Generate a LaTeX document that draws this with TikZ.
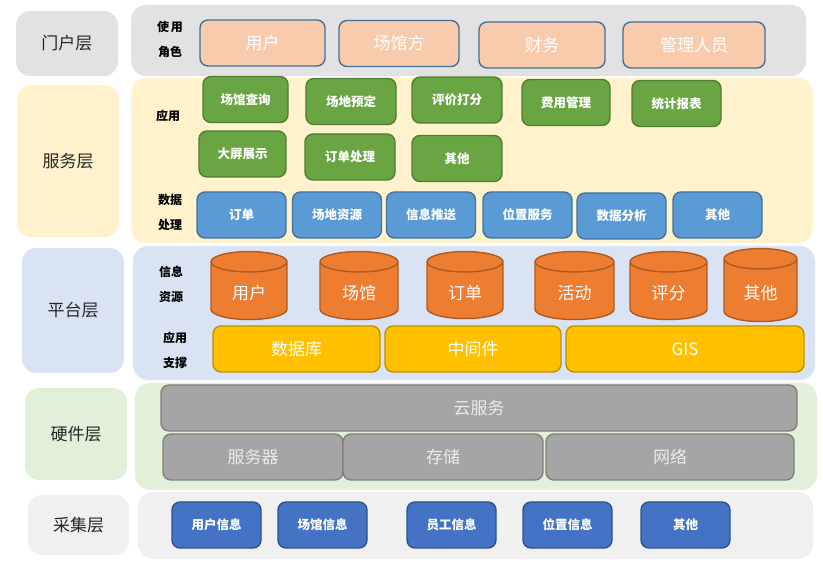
\documentclass[tikz,border=0pt]{standalone}
\usepackage{fontspec}
\setmainfont{Noto Sans CJK SC}
\usetikzlibrary{shapes.geometric}
\definecolor{gportal}{RGB}{226,226,226}
\definecolor{gserv}{RGB}{255,242,204}
\definecolor{gplat}{RGB}{218,227,243}
\definecolor{ghard}{RGB}{226,240,217}
\definecolor{gcoll}{RGB}{240,240,240}
\definecolor{rolefill}{RGB}{248,203,173}
\definecolor{boxline}{RGB}{65,113,156}
\definecolor{appfill}{RGB}{106,165,67}
\definecolor{appline}{RGB}{80,126,50}
\definecolor{datafill}{RGB}{91,155,213}
\definecolor{cylfill}{RGB}{237,125,49}
\definecolor{cylline}{RGB}{174,90,33}
\definecolor{supfill}{RGB}{255,192,0}
\definecolor{supline}{RGB}{191,144,0}
\definecolor{hwfill}{RGB}{165,165,165}
\definecolor{hwline}{RGB}{127,127,127}
\definecolor{collfill}{RGB}{68,114,196}
\definecolor{collline}{RGB}{47,82,143}
\tikzset{
	layer/.style={rounded corners=14pt, inner sep=0pt, text=black!85, font=\fontsize{17}{17}\selectfont},
	panel/.style={rounded corners=15pt},
	side/.style={align=center, inner sep=0pt, font=\bfseries\fontsize{12}{25}\selectfont},
	box/.style={rounded corners=8pt, line width=1.4pt, inner sep=0pt, minimum height=46pt, text=white},
	small/.style={box, font=\bfseries\fontsize{12.5}{12.5}\selectfont},
	large/.style={box, font=\fontsize{17}{17}\selectfont},
	role/.style={large, fill=rolefill, draw=boxline},
	app/.style={small, fill=appfill, draw=appline},
	dat/.style={small, fill=datafill, draw=boxline},
	sup/.style={large, fill=supfill, draw=supline},
	hw/.style={large, fill=hwfill, draw=hwline, text=white!92!black},
	coll/.style={small, fill=collfill, draw=collline},
	db/.style={cylinder, shape border rotate=90, aspect=0.6, line width=1.4pt, inner sep=0pt, yshift=-5pt,
		fill=cylfill, draw=cylline, text=white, font=\fontsize{17}{17}\selectfont}
}
\begin{document}
\begin{tikzpicture}[x=1pt, y=-1pt, line join=round]
	\useasboundingbox (0,0) rectangle (823,577);
	% panels
	\fill[panel, gportal] (131,5) rectangle (806,76);
	\fill[panel, gserv] (131,78) rectangle (813,243);
	\fill[panel, gplat] (133,246) rectangle (815,380);
	\fill[panel, ghard] (135,383) rectangle (817,490);
	\fill[panel, gcoll] (138,492) rectangle (813,559);
	% layers
	\node[layer, fill=gportal, minimum width=102pt, minimum height=65pt] (portal) at (67,43.5) {门户层};
	\node[layer, fill=gserv, minimum width=102pt, minimum height=152pt] (serv) at (68,161) {服务层};
	\node[layer, fill=gplat, minimum width=102pt, minimum height=125pt] (plat) at (73,310.5) {平台层};
	\node[layer, fill=ghard, minimum width=102pt, minimum height=92pt] (hard) at (76,434) {硬件层};
	\node[layer, fill=gcoll, minimum width=101pt, minimum height=60pt] (coll) at (78.5,525) {采集层};
	% side labels
	\node[side] (lrole) at (170,39) {使\,用\\角色};
	\node[side] (lapp) at (168,116) {应用};
	\node[side] (ldata) at (170,212.5) {数据\\处理};
	\node[side] (linfo) at (171,284.5) {信息\\资源};
	\node[side] (lsup) at (175,350) {应用\\支撑};
	% portal
	\foreach \n/\cx/\cy/\w/\t in {r1/262.5/43/125/用户, r2/399/43.5/120/场馆方, r3/542/45/126/财务, r4/694/45/142/管理人员}
		\node[role, minimum width=\w pt] (\n) at (\cx,\cy) {\t};
	% service
	\foreach \n/\cx/\cy/\w/\t in {a1/245.5/99.5/85/场馆查询, a2/351/101.5/90/场地预定, a3/457/100/90/评价打分,
		a4/566/102.5/88/费用管理, a5/676.5/103.5/89/统计报表, a6/242.5/154/87/大屏展示, a7/350/157/90/订单处理, a8/457/158.5/90/其他}
		\node[app, minimum width=\w pt] (\n) at (\cx,\cy) {\t};
	\foreach \n/\cx/\cy/\t in {d1/241.5/215/订单, d2/337/215/场地资源, d3/431/215/信息推送,
		d4/527.5/215/位置服务, d5/621.5/216/数据分析, d6/717.5/215/其他}
		\node[dat, minimum width=89pt] (\n) at (\cx,\cy) {\t};
	% platform
	\foreach \n/\cx/\cy/\w/\h/\t in {c1/249/286/76/68/用户, c2/359/286/78/68/场馆, c3/465/285.5/76/67/订单,
		c4/574.5/286/79/68/活动, c5/668.5/286/77/68/评分, c6/760.5/285.5/73/73/其他}
		\node[db, minimum width=\w pt, minimum height=\h pt] (\n) at (\cx,\cy) {\raisebox{-9pt}[0pt][0pt]{\t}};
	\foreach \n/\cx/\w/\t in {s1/296.5/167/数据库, s2/473/176/中间件, s3/685/238/GIS}
		\node[sup, minimum width=\w pt] (\n) at (\cx,349) {\t};
	% hardware
	\node[hw, minimum width=636pt] (cloud) at (479,408) {云服务};
	\foreach \n/\cx/\w/\t in {h1/253/180/服务器, h2/443/200/存储, h3/670/248/网络}
		\node[hw, minimum width=\w pt] (\n) at (\cx,457) {\t};
	% collection
	\foreach \n/\cx/\t in {k1/216.5/用户信息, k2/322.5/场馆信息, k3/451.5/员工信息, k4/567.5/位置信息, k5/685.5/其他}
		\node[coll, minimum width=89pt] (\n) at (\cx,525) {\t};
\end{tikzpicture}
\end{document}
